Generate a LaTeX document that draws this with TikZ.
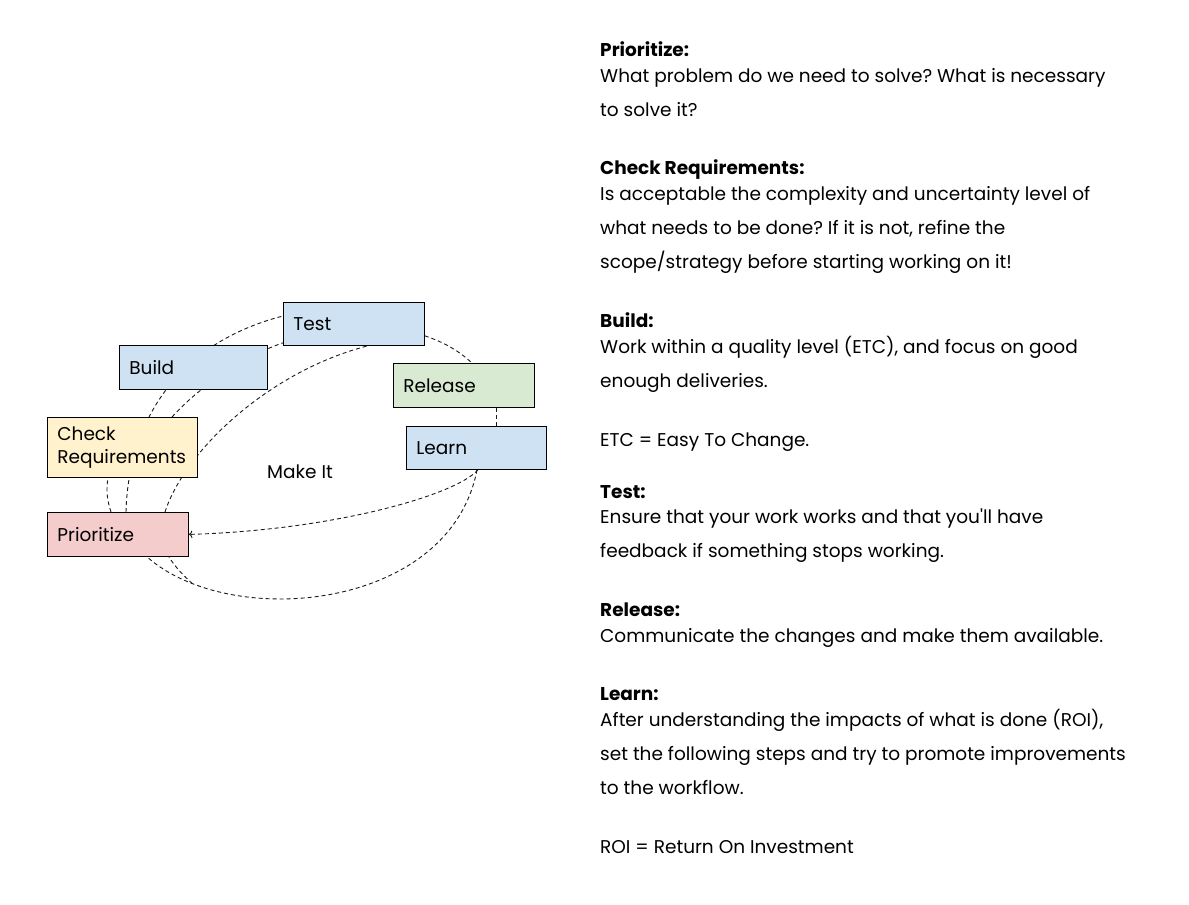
\documentclass[tikz,border=0pt]{standalone}
\usepackage{fontspec}
\setmainfont{Poppins}[Ligatures=TeXOff]
\usetikzlibrary{arrows.meta,backgrounds}
\frenchspacing

\definecolor{stepblue}{HTML}{CFE2F3}
\definecolor{stepgreen}{HTML}{D9EAD3}
\definecolor{stepyellow}{HTML}{FFF2CC}
\definecolor{stepred}{HTML}{F4CCCC}
\definecolor{flowgray}{HTML}{1A1A1A}

\tikzset{
    stepbox/.style={draw, line width=0.8pt, anchor=north west, inner xsep=10pt,
        align=left, minimum height=44pt, font=\fontsize{18.5}{22.5}\selectfont},
    flow/.style={flowgray, line width=0.9pt, dash pattern=on 4pt off 3pt},
    head/.style={anchor=base west, inner sep=0pt, font=\fontsize{18.5}{22}\selectfont\bfseries},
    body/.style={anchor=base west, inner sep=0pt, align=left,
        font=\fontsize{18.5}{33.7}\selectfont}
}

\begin{document}
\begin{tikzpicture}[x=1pt, y=-1pt]
    \useasboundingbox (0,0) rectangle (1189,905);

    % the cycle
    \node[stepbox, fill=stepblue, text width=121pt, minimum height=43pt] (test) at (283,302) {Test};
    \node[stepbox, fill=stepblue, text width=128pt] (build) at (119,345) {Build};
    \node[stepbox, fill=stepgreen, text width=121pt] (release) at (393,363) {Release};
    \node[stepbox, fill=stepblue, text width=120pt, minimum height=43pt] (learn) at (406,426) {Learn};
    \node[stepbox, fill=stepyellow, text width=130pt, minimum height=60pt] (check) at (47,417) {Check\\Requirements};
    \node[stepbox, fill=stepred, text width=121pt] (prio) at (47,512) {Prioritize};
    \node[font=\fontsize{18.5}{22}\selectfont] (makeit) at (300,472) {Make It};

    \begin{scope}[on background layer]
        \fill[white] (0,0) rectangle (1189,905);
        \draw[flow] ([xshift=64pt]prio.north west)
            .. controls +(-4,-12) and +(-2,12) .. ([xshift=61pt]check.south west);
        \draw[flow] ([xshift=79pt]prio.north west)
            .. controls +(2,-82) and +(-113,29) .. ([yshift=-14pt]test.north west);
        \draw[flow] ([xshift=125pt]check.north west)
            .. controls +(28,-31) and +(-38,13) .. ([yshift=3pt]test.south west);
        \draw[flow] ([xshift=118pt]prio.north west)
            .. controls +(20,-62) and +(-98,25) .. ([xshift=85pt]test.south west);
        \draw[flow] ([yshift=10pt]test.south east)
            .. controls +(21,7) and +(-12,-11) .. ([xshift=79pt]release.north west);
        \draw[flow] ([xshift=103pt]release.south west) -- ([xshift=90pt]learn.north west);
        \draw[flow, ->] ([xshift=72pt]learn.south west)
            .. controls +(-23,26) and +(142,-4) .. (prio.east);
        \draw[flow] ([xshift=71pt]learn.south west)
            .. controls +(-27,141) and +(83,74) .. coordinate[pos=0.85] (merge) ([xshift=100pt]prio.south west);
        \draw[flow] (merge)
            .. controls +(-8,-7) and +(5,9) .. ([xshift=122pt]prio.south west);
    \end{scope}

    % notes on the right (a body node sits on the baseline of its last line)
    \node[head] (hprio) at (600,56) {Prioritize:};
    \node[body] (bprio) at (600,116) {What problem do we need to solve? What is necessary\\to solve it?};
    \node[head] (hcheck) at (600,174) {Check Requirements:};
    \node[body] (bcheck) at (600,268) {Is acceptable the complexity and uncertainty level of\\what needs to be done? If it is not, refine the\\scope/strategy before starting working on it!};
    \node[head] (hbuild) at (600,327) {Build:};
    \node[body] (bbuild) at (600,387) {Work within a quality level (ETC), and focus on good\\enough deliveries.};
    \node[body] (etc) at (600,446) {ETC = Easy To Change.};
    \node[head] (htest) at (600,498) {Test:};
    \node[body] (btest) at (600,557) {Ensure that your work works and that you'll have\\feedback if something stops working.};
    \node[head] (hrelease) at (600,616) {Release:};
    \node[body] (brelease) at (600,642) {Communicate the changes and make them available.};
    \node[head] (hlearn) at (600,700) {Learn:};
    \node[body] (blearn) at (600,794) {After understanding the impacts of what is done (ROI),\\set the following steps and try to promote improvements\\to the workflow.};
    \node[body] (roi) at (600,853) {ROI = Return On Investment};
\end{tikzpicture}
\end{document}
